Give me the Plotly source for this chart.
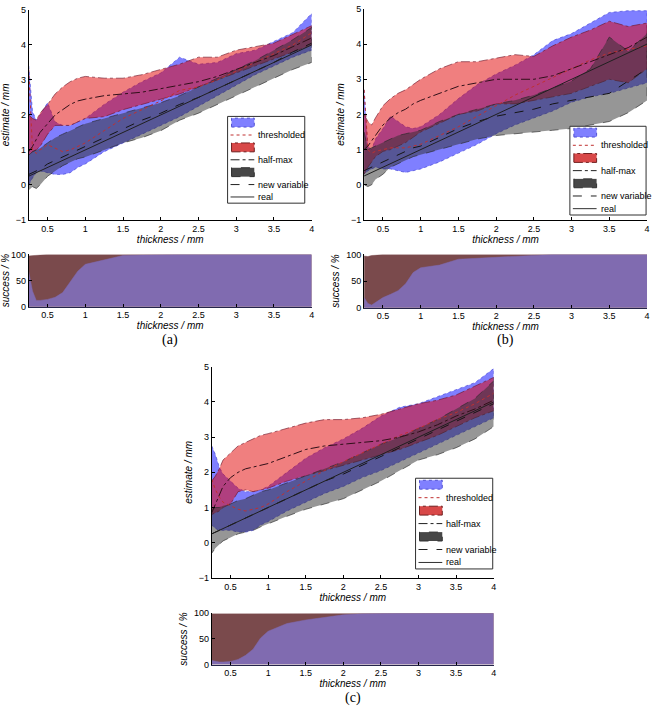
import plotly.graph_objects as go

W, H = 655, 710

# sampled thickness values (mm)
thickness = [0.25, 0.3, 0.35, 0.4, 0.5, 0.6, 0.7, 0.8, 0.9, 1.0, 1.25, 1.5,
             1.75, 2.0, 2.25, 2.5, 2.75, 3.0, 3.25, 3.5, 3.75, 4.0]
real = [0.25, 0.3, 0.35, 0.4, 0.5, 0.6, 0.7, 0.8, 0.9, 1.0, 1.25, 1.5,
        1.75, 2.0, 2.25, 2.5, 2.75, 3.0, 3.25, 3.5, 3.75, 4.0]

# ---- panel (a) ----
a_thr_lo = [0.0, 0.2, 0.35, 0.4, 0.35, 0.3, 0.3, 0.35, 0.5, 0.6, 0.95, 1.2, 1.45, 1.7, 1.95, 2.25, 2.55, 2.85, 3.15, 3.4, 3.65, 3.85]
a_thr_hi = [3.4, 2.1, 1.85, 2.0, 2.35, 1.8, 1.7, 1.7, 1.8, 1.9, 2.3, 2.65, 2.95, 3.2, 3.65, 3.45, 3.5, 3.75, 3.85, 4.1, 4.35, 4.9]
a_thr_mid = [3.3, 1.0, 0.9, 1.0, 1.15, 1.05, 0.95, 1.0, 1.1, 1.2, 1.55, 1.9, 2.15, 2.4, 2.7, 2.8, 3.0, 3.25, 3.5, 3.75, 4.0, 4.35]
a_hm_lo = [0.85, 0.95, 1.0, 1.1, 1.45, 1.7, 1.7, 1.7, 1.8, 1.9, 1.95, 2.15, 2.3, 2.45, 2.6, 2.8, 3.0, 3.2, 3.4, 3.6, 3.8, 4.0]
a_hm_hi = [2.0, 1.9, 1.85, 2.05, 2.3, 2.6, 2.8, 2.95, 3.05, 3.1, 3.05, 3.05, 3.15, 3.3, 3.45, 3.65, 3.65, 3.85, 3.95, 4.05, 4.3, 4.55]
a_hm_mid = [0.95, 1.1, 1.3, 1.5, 1.75, 2.0, 2.15, 2.3, 2.4, 2.45, 2.55, 2.6, 2.65, 2.75, 2.85, 2.95, 3.1, 3.3, 3.5, 3.7, 3.95, 4.2]
a_nv_lo = [-0.15, -0.05, -0.1, 0.0, 0.25, 0.4, 0.55, 0.65, 0.75, 0.8, 1.0, 1.2, 1.35, 1.55, 1.85, 2.05, 2.3, 2.55, 2.8, 3.05, 3.3, 3.5]
a_nv_hi = [0.85, 0.95, 1.0, 1.05, 1.2, 1.35, 1.45, 1.55, 1.65, 1.75, 1.9, 2.05, 2.2, 2.35, 2.55, 2.8, 3.05, 3.3, 3.55, 3.85, 4.15, 4.5]
a_nv_mid = [0.3, 0.35, 0.4, 0.45, 0.6, 0.7, 0.8, 0.9, 1.0, 1.1, 1.35, 1.6, 1.85, 2.05, 2.3, 2.5, 2.75, 3.0, 3.25, 3.5, 3.8, 4.05]
a_ok_thr = [67, 30, 12, 12, 14, 18, 27, 48, 68, 81, 90, 98, 99, 100, 100, 100, 100, 100, 100, 100, 100, 100]
a_ok_hm = [97, 98, 99, 99, 100, 100, 100, 100, 100, 100, 100, 100, 100, 100, 100, 100, 100, 100, 100, 100, 100, 100]

# ---- panel (b) ----
b_thr_lo = [0.3, 0.4, 0.45, 0.5, 0.45, 0.45, 0.4, 0.35, 0.4, 0.45, 0.65, 0.9, 1.15, 1.45, 1.7, 1.9, 2.1, 2.35, 2.5, 2.6, 2.75, 2.9]
b_thr_hi = [2.7, 1.1, 1.0, 1.3, 1.6, 1.95, 1.8, 1.65, 1.6, 1.65, 2.0, 2.45, 2.85, 3.15, 3.4, 3.7, 4.1, 4.3, 4.6, 4.9, 4.95, 4.95]
b_thr_mid = [2.7, 1.0, 0.9, 0.95, 1.0, 1.05, 1.05, 1.05, 1.1, 1.15, 1.4, 1.65, 1.95, 2.25, 2.55, 2.8, 3.05, 3.3, 3.55, 3.75, 3.85, 3.95]
b_hm_lo = [0.3, 0.5, 0.65, 0.8, 0.95, 1.0, 1.1, 1.2, 1.35, 1.5, 1.75, 2.0, 2.1, 2.3, 2.3, 2.4, 2.5, 2.6, 2.8, 3.0, 2.9, 3.3]
b_hm_hi = [2.0, 1.8, 1.7, 1.9, 2.25, 2.45, 2.6, 2.7, 2.85, 3.0, 3.3, 3.5, 3.5, 3.6, 3.7, 3.65, 3.95, 4.2, 4.4, 4.65, 4.5, 4.6]
b_hm_mid = [1.0, 1.1, 1.25, 1.4, 1.7, 1.9, 2.05, 2.15, 2.3, 2.4, 2.6, 2.8, 2.9, 3.0, 3.0, 3.0, 3.1, 3.3, 3.5, 3.7, 3.9, 4.2]
b_nv_lo = [0.0, -0.05, 0.0, 0.15, 0.3, 0.5, 0.6, 0.7, 0.8, 0.85, 1.0, 1.15, 1.3, 1.4, 1.45, 1.5, 1.55, 1.6, 1.7, 1.8, 2.05, 2.4]
b_nv_hi = [1.5, 1.0, 1.05, 1.1, 1.2, 1.3, 1.4, 1.45, 1.5, 1.55, 1.8, 2.0, 2.15, 2.3, 2.4, 2.55, 2.75, 2.95, 3.3, 4.2, 3.8, 4.3]
b_nv_mid = [0.4, 0.45, 0.5, 0.55, 0.65, 0.75, 0.85, 0.95, 1.05, 1.1, 1.35, 1.6, 1.8, 1.95, 2.05, 2.15, 2.3, 2.4, 2.5, 2.6, 2.95, 3.3]
b_ok_thr = [19, 8, 5, 10, 19, 25, 32, 45, 66, 75, 80, 91, 93, 95, 97, 99, 100, 100, 100, 100, 100, 100]
b_ok_hm = [97, 96, 98, 99, 100, 100, 100, 100, 100, 100, 100, 100, 100, 100, 100, 100, 100, 100, 100, 100, 100, 100]

# ---- panel (c) ----
c_thr_lo = [0.5, 0.4, 0.35, 0.35, 0.35, 0.3, 0.3, 0.35, 0.5, 0.6, 0.9, 1.15, 1.4, 1.6, 1.85, 2.05, 2.3, 2.55, 2.8, 3.05, 3.3, 3.55]
c_thr_hi = [2.75, 2.5, 2.15, 1.95, 1.75, 1.55, 1.45, 1.45, 1.5, 1.6, 2.0, 2.4, 2.7, 2.95, 3.25, 3.6, 3.85, 3.95, 4.15, 4.35, 4.55, 4.95]
c_thr_mid = [1.8, 1.5, 1.3, 1.15, 1.05, 0.95, 0.9, 0.95, 1.0, 1.1, 1.45, 1.75, 2.05, 2.3, 2.55, 2.8, 3.05, 3.25, 3.5, 3.7, 3.95, 4.25]
c_hm_lo = [0.8, 0.85, 0.9, 1.0, 1.1, 1.45, 1.5, 1.45, 1.5, 1.55, 1.75, 1.9, 2.05, 2.2, 2.35, 2.5, 2.65, 2.85, 3.05, 3.3, 3.55, 3.75]
c_hm_hi = [1.75, 1.9, 2.1, 2.35, 2.55, 2.75, 2.85, 2.95, 3.05, 3.1, 3.25, 3.4, 3.5, 3.5, 3.55, 3.65, 3.8, 3.95, 4.05, 4.2, 4.45, 4.7]
c_hm_mid = [0.85, 1.1, 1.35, 1.6, 1.85, 2.0, 2.1, 2.15, 2.2, 2.25, 2.45, 2.65, 2.75, 2.8, 2.85, 2.9, 3.0, 3.15, 3.35, 3.6, 3.8, 4.05]
c_nv_lo = [-0.3, -0.15, -0.05, 0.05, 0.15, 0.25, 0.3, 0.35, 0.45, 0.55, 0.75, 0.95, 1.1, 1.25, 1.5, 1.75, 2.05, 2.35, 2.5, 2.7, 2.95, 3.3]
c_nv_hi = [0.95, 1.0, 1.0, 1.05, 1.1, 1.2, 1.25, 1.35, 1.45, 1.5, 1.7, 1.9, 2.1, 2.3, 2.55, 2.8, 3.0, 3.25, 3.5, 3.8, 4.1, 4.6]
c_nv_mid = [0.25, 0.3, 0.35, 0.4, 0.5, 0.6, 0.7, 0.8, 0.9, 1.0, 1.25, 1.5, 1.75, 1.95, 2.2, 2.45, 2.7, 2.95, 3.2, 3.45, 3.7, 3.95]
c_ok_thr = [8, 6, 5, 5, 6, 10, 18, 30, 52, 65, 80, 87, 92, 97, 99, 100, 100, 100, 100, 100, 100, 100]
c_ok_hm = [99, 99, 100, 100, 100, 100, 100, 100, 100, 100, 100, 100, 100, 100, 100, 100, 100, 100, 100, 100, 100, 100]

x_ticks = [0.5, 1, 1.5, 2, 2.5, 3, 3.5, 4]
y_ticks = [-1, 0, 1, 2, 3, 4, 5]
ok_ticks = [0, 50, 100]

BLUE_FILL, BLUE_EDGE = "rgba(0,0,255,0.5)", "rgba(60,60,210,0.9)"
RED_FILL, RED_EDGE = "rgba(225,0,0,0.5)", "rgba(110,20,40,0.9)"
GREY_FILL, GREY_EDGE = "rgba(45,45,45,0.5)", "rgba(40,40,40,0.9)"
OK_HM, OK_THR = "#7a4a4c", "#806bb0"
FONT = "Liberation Sans, Arial, sans-serif"

# positions in page pixels: x extent, main/success y extents, legend box, caption row
panels = [
    dict(cap="(a)", px=(25, 311), main=(5, 218), ok=(253, 306), leg=(226, 113, 304, 201), cap_y=340,
         thr=(a_thr_lo, a_thr_hi, a_thr_mid), hm=(a_hm_lo, a_hm_hi, a_hm_mid), nv=(a_nv_lo, a_nv_hi, a_nv_mid),
         ok_thr=a_ok_thr, ok_hm=a_ok_hm),
    dict(cap="(b)", px=(364, 650), main=(4, 218), ok=(253, 307), leg=(572, 123, 649, 213), cap_y=340,
         thr=(b_thr_lo, b_thr_hi, b_thr_mid), hm=(b_hm_lo, b_hm_hi, b_hm_mid), nv=(b_nv_lo, b_nv_hi, b_nv_mid),
         ok_thr=b_ok_thr, ok_hm=b_ok_hm),
    dict(cap="(c)", px=(210, 495), main=(367, 581), ok=(617, 669), leg=(416, 480, 494, 572), cap_y=703,
         thr=(c_thr_lo, c_thr_hi, c_thr_mid), hm=(c_hm_lo, c_hm_hi, c_hm_mid), nv=(c_nv_lo, c_nv_hi, c_nv_mid),
         ok_thr=c_ok_thr, ok_hm=c_ok_hm),
]

legend_entries = [
    ("", "patch", "#8080ff", "#5050d0", "dot"),
    ("thresholded", "line", None, "#c03030", "dot"),
    ("", "patch", "#d84848", "#702020", "dashdot"),
    ("half-max", "line", None, "#202020", "dashdot"),
    ("", "patch", "#474747", "#303030", "dash"),
    ("new variable", "line", None, "#202020", "dash"),
    ("real", "line", None, "#303030", "solid"),
]


def fx(px):
    return px / W


def fy(py):
    return 1 - py / H


fig = go.Figure()
layout = dict(width=W, height=H, margin=dict(l=0, r=0, t=0, b=0), showlegend=False,
              plot_bgcolor="white", paper_bgcolor="white", font=dict(family=FONT, size=9, color="black"))
shapes, annotations = [], []

axis_common = dict(showgrid=False, zeroline=False, showline=True, linecolor="black", linewidth=1,
                   ticks="inside", ticklen=3, tickcolor="black", tickfont=dict(family=FONT, size=9),
                   mirror=False)

for i, p in enumerate(panels):
    m, s = 2 * i + 1, 2 * i + 2
    xm, ym = ("x" if m == 1 else f"x{m}"), ("y" if m == 1 else f"y{m}")
    xs, ys = f"x{s}", f"y{s}"
    xdom = [fx(p["px"][0]), fx(p["px"][1])]

    # bands: thresholded (blue), half-max (red), new variable (grey)
    for (lo, hi, mid), fill, edge, dash in [(p["thr"], BLUE_FILL, BLUE_EDGE, "dot"),
                                            (p["hm"], RED_FILL, RED_EDGE, "dashdot"),
                                            (p["nv"], GREY_FILL, GREY_EDGE, "dash")]:
        fig.add_trace(go.Scatter(x=thickness + thickness[::-1], y=hi + lo[::-1], fill="toself",
                                 fillcolor=fill, mode="lines", line=dict(color=edge, width=0.7, dash=dash),
                                 xaxis=xm, yaxis=ym, hoverinfo="skip"))
    # mean lines
    for series, color, dash in [(p["thr"][2], "#c03030", "dot"), (p["hm"][2], "#301018", "dashdot"),
                                (p["nv"][2], "#151515", "dash"), (real, "#202020", "solid")]:
        fig.add_trace(go.Scatter(x=thickness, y=series, mode="lines",
                                 line=dict(color=color, width=1, dash=dash), xaxis=xm, yaxis=ym))

    # success rates
    fig.add_trace(go.Scatter(x=thickness, y=p["ok_hm"], fill="tozeroy", fillcolor=OK_HM, mode="lines",
                             line=dict(color=OK_HM, width=0.5), xaxis=xs, yaxis=ys))
    fig.add_trace(go.Scatter(x=thickness, y=p["ok_thr"], fill="tozeroy", fillcolor=OK_THR, mode="lines",
                             line=dict(color=OK_THR, width=0.5), xaxis=xs, yaxis=ys))

    xtitle = dict(text="<i>thickness / mm</i>", font=dict(family=FONT, size=10), standoff=2)
    layout[f"xaxis{'' if m == 1 else m}"] = dict(axis_common, domain=xdom, range=[0.25, 4], tickvals=x_ticks,
                                                  anchor=ym, title=xtitle)
    layout[f"yaxis{'' if m == 1 else m}"] = dict(axis_common, domain=[fy(p["main"][1]), fy(p["main"][0])],
                                                  range=[-1, 5], tickvals=y_ticks, anchor=xm,
                                                  title=dict(text="<i>estimate / mm</i>",
                                                             font=dict(family=FONT, size=10), standoff=4))
    layout[f"xaxis{s}"] = dict(axis_common, domain=xdom, range=[0.25, 4], tickvals=x_ticks, anchor=ys,
                               linecolor="#25254a", title=xtitle)
    layout[f"yaxis{s}"] = dict(axis_common, domain=[fy(p["ok"][1]), fy(p["ok"][0])], range=[0, 100],
                               tickvals=ok_ticks, anchor=xs,
                               title=dict(text="<i>success / %</i>", font=dict(family=FONT, size=10),
                                          standoff=4))

    # legend box
    lx0, ly0, lx1, ly1 = p["leg"]
    shapes.append(dict(type="rect", xref="paper", yref="paper", x0=fx(lx0), x1=fx(lx1), y0=fy(ly1), y1=fy(ly0),
                       line=dict(color="#303030", width=1), fillcolor="white"))
    row_h = (ly1 - ly0) / len(legend_entries)
    for k, (label, kind, fill, edge, dash) in enumerate(legend_entries):
        cy = ly0 + row_h * (k + 0.5)
        if kind == "patch":
            shapes.append(dict(type="rect", xref="paper", yref="paper", x0=fx(lx0 + 4), x1=fx(lx0 + 27),
                               y0=fy(cy + 4.5), y1=fy(cy - 4.5), fillcolor=fill,
                               line=dict(color=edge, width=1, dash=dash)))
        else:
            shapes.append(dict(type="line", xref="paper", yref="paper", x0=fx(lx0 + 3), x1=fx(lx0 + 27),
                               y0=fy(cy), y1=fy(cy), line=dict(color=edge, width=1, dash=dash)))
        if label:
            annotations.append(dict(text=label, xref="paper", yref="paper", x=fx(lx0 + 29), y=fy(cy),
                                    xanchor="left", yanchor="middle", showarrow=False,
                                    font=dict(family=FONT, size=9, color="black")))

    annotations.append(dict(text=p["cap"], xref="paper", yref="paper", x=sum(xdom) / 2, y=fy(p["cap_y"]),
                            xanchor="center", yanchor="middle", showarrow=False,
                            font=dict(family="Liberation Serif, serif", size=14, color="black")))

layout["shapes"] = shapes
layout["annotations"] = annotations
fig.update_layout(**layout)
# drop the default 8px page margin so the figure fills the window
fig.write_html("out.html", config={"displayModeBar": False},
               post_script="document.body.style.margin = '0px';")
